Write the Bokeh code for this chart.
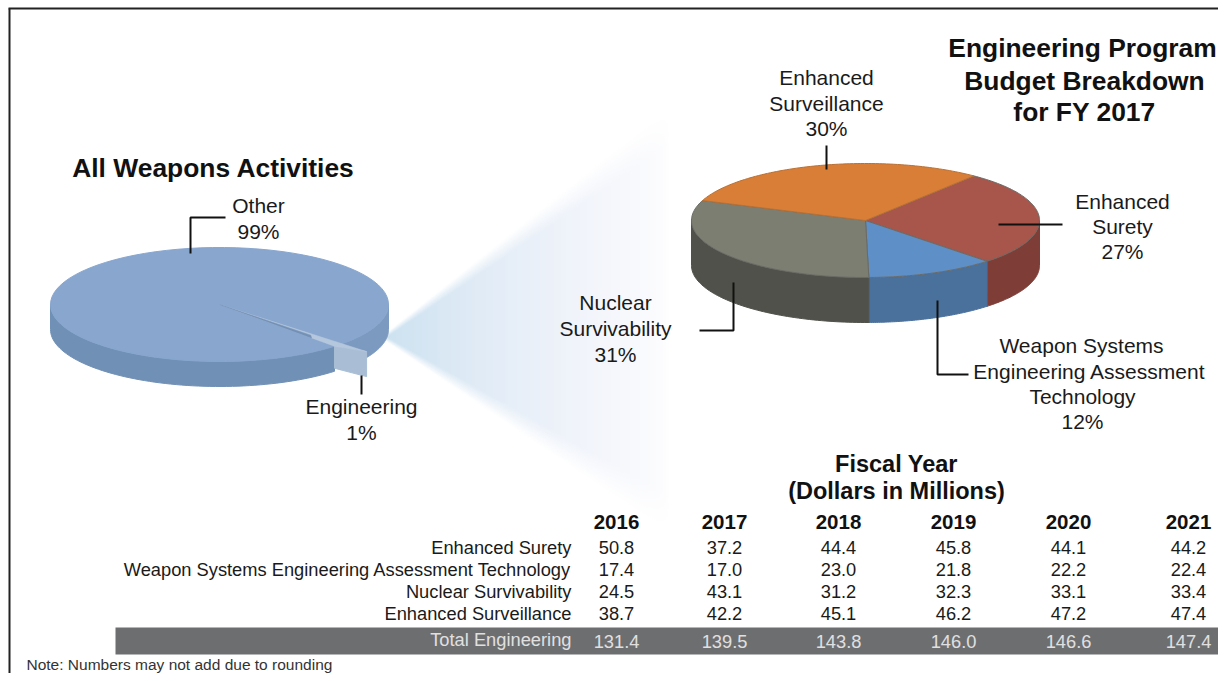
import numpy as np
from bokeh.plotting import figure
from bokeh.models import Range1d
from bokeh.core.properties import value
from bokeh.embed import file_html
from bokeh.resources import INLINE

# ---- data ----
left_labels = ["Other", "Engineering"]
left_shares = [99, 1]
right_labels = ["Enhanced Surety", "Weapon Systems Engineering Assessment Technology",
                "Nuclear Survivability", "Enhanced Surveillance"]
right_shares = [27, 12, 31, 30]
years = ["2016", "2017", "2018", "2019", "2020", "2021"]
enhanced_surety = ["50.8", "37.2", "44.4", "45.8", "44.1", "44.2"]
weapon_systems = ["17.4", "17.0", "23.0", "21.8", "22.2", "22.4"]
nuclear_surv = ["24.5", "43.1", "31.2", "32.3", "33.1", "33.4"]
enhanced_surv = ["38.7", "42.2", "45.1", "46.2", "47.2", "47.4"]
total_eng = ["131.4", "139.5", "143.8", "146.0", "146.6", "147.4"]
table_rows = [("Enhanced Surety", enhanced_surety),
              ("Weapon Systems Engineering Assessment Technology", weapon_systems),
              ("Nuclear Survivability", nuclear_surv),
              ("Enhanced Surveillance", enhanced_surv)]

FONT = value("Liberation Sans")
W, H = 1218, 673
p = figure(width=W, height=H, output_backend="svg", toolbar_location=None,
           x_range=Range1d(0, W), y_range=Range1d(H, 0),
           min_border=0, outline_line_color=None, background_fill_color="white",
           border_fill_color="white")
p.axis.visible = False
p.grid.visible = False


def txt(x, y, s, size, color="#1a1a1a", bold=False, align="center"):
    p.text([x], [y - 1], text=[s], text_font=FONT, text_font_size=value(f"{size}px"),
           text_color=color, text_align=align, text_baseline="middle",
           text_font_style="bold" if bold else "normal")


def ell(cx, cy, rx, ry, a, r=1.0):
    a = np.radians(a)
    return cx + rx * r * np.cos(a), cy + ry * r * np.sin(a)


def top(cx, cy, rx, ry, a0, a1, color, line=None):
    t = np.linspace(a0, a1, 90)
    xs, ys = ell(cx, cy, rx, ry, t)
    p.patch(np.r_[cx, xs], np.r_[cy, ys], fill_color=color,
            line_color=line or color, line_width=1)


def side(cx, cy, rx, ry, d, a0, a1, color):
    a0, a1 = max(a0, 0), min(a1, 180)
    if a1 <= a0:
        return
    t = np.linspace(a0, a1, 70)
    xs, ys = ell(cx, cy, rx, ry, t)
    p.patch(np.r_[xs, xs[::-1]], np.r_[ys, ys[::-1] + d], fill_color=color,
            line_color=color, line_width=1)


# ---- fan glow between the two pies ----
ax, ay = 380.0, 337.0
fx0, fx1, fy0, fy1 = 376, 672, 112, 520
gx, gy = np.meshgrid(np.arange(fx0, fx1) + .5, np.arange(fy0, fy1) + .5)
dx = np.clip(gx - ax, 0, None)
up = ay - dx * 0.80
dn = ay + dx * 0.68
soft = 4 + dx * 0.12
mask = np.clip((gy - up) / soft, 0, 1) * np.clip((dn - gy) / soft, 0, 1)
mask *= (gx > ax)
f = np.clip(dx / 288, 0, 1)
fade = np.clip((1 - f) ** 0.45, 0, 1)
alpha = mask * fade * np.clip(0.80 - 0.35 * f, 0, 1)
rgba = np.zeros(gx.shape + (4,), dtype=np.uint8)
rgba[..., 0] = (190 + 30 * f).astype(np.uint8)
rgba[..., 1] = (218 + 5 * f).astype(np.uint8)
rgba[..., 2] = (236 + 8 * f).astype(np.uint8)
rgba[..., 3] = (alpha * 255).astype(np.uint8)
img = rgba.view(dtype=np.uint32).reshape(gx.shape)
p.image_rgba(image=[img], x=fx0, y=fy0, dw=fx1 - fx0, dh=fy1 - fy0)

# ---- left pie ----
lc, ly, lrx, lry, ld = 219, 304, 169, 57, 25
eng_start = 43.5
eng_span = left_shares[1] / sum(left_shares) * 360
eng_end = eng_start + eng_span
side(lc, ly, lrx, lry, ld, 0, eng_start + 1, "#7C99BF")
side(lc, ly, lrx, lry, ld, eng_end, 180, "#7090B5")
top(lc, ly, lrx, lry, eng_end - 360, eng_start + 0.5, "#88A6CE")
farx, fary = ell(lc, ly, lrx, lry, eng_start, 1.2)
nearx, neary = ell(lc, ly, lrx, lry, eng_end, 1.0)
p.patch([nearx, farx, farx, nearx], [neary, fary, fary + ld, neary + ld - 3],
        fill_color="#A9BED5", line_color="#A9BED5")
p.patch([lc, farx, nearx], [ly, fary, neary], fill_color="#B4C7DC", line_color="#B4C7DC", line_width=.5)
p.patch([lc, lc + (farx - lc) * .62, lc + (nearx - lc) * .80],
        [ly, ly + (fary - ly) * .62 + 1.5, ly + (neary - ly) * .80],
        fill_color="#7391B6", line_color="#7391B6", line_width=.5)

# ---- right pie ----
rc, ry, rrx, rry, rd = 865, 220, 174, 57, 45
right_top = ["#A8554C", "#5E8FC6", "#7C7E72", "#D97E37"]
right_side = ["#7E3E37", "#4A709C", "#50514A", "#B5652A"]
a = -51.5
bounds = []
for s, ct, cs in zip(right_shares, right_top, right_side):
    b = a + s / sum(right_shares) * 360
    side(rc, ry, rrx, rry, rd, a, b, cs)
    bounds.append((a, b, ct))
    a = b
for a0, b0, ct in bounds:
    top(rc, ry, rrx, rry, a0, b0, ct, line="#6B6B66" if ct != "#D97E37" else "#B87035")

# ---- leaders ----
leaders = [([190, 190, 225], [253, 217, 217]),
           ([361, 361], [375, 394]),
           ([826, 826], [145, 169]),
           ([998, 1062], [224, 224]),
           ([733, 733, 699], [282, 330, 330]),
           ([937, 937, 968], [300, 374, 374])]
for xs, ys in leaders:
    p.line(xs, ys, line_color="#111111", line_width=2)

# ---- frame ----
p.line([9, 9], [8, H], line_color="#222222", line_width=2)
p.line([8, W], [8, 8], line_color="#222222", line_width=2)

# ---- titles and labels ----
LB = 21
TT = 26.4
txt(213, 168, "All Weapons Activities", TT, "#111111", True)
txt(258, 206, left_labels[0], LB)
txt(258, 232, f"{left_shares[0]}%", LB)
txt(361, 407, left_labels[1], LB)
txt(361, 433, f"{left_shares[1]}%", LB)
txt(1082, 48, "Engineering Program", TT, "#111111", True)
txt(1084, 81, "Budget Breakdown", TT, "#111111", True)
txt(1084, 112, "for FY 2017", TT, "#111111", True)
txt(826, 78, "Enhanced", LB)
txt(826, 104, "Surveillance", LB)
txt(826, 129, f"{right_shares[3]}%", LB)
txt(1122, 202, "Enhanced", LB)
txt(1122, 227, "Surety", LB)
txt(1122, 252, f"{right_shares[0]}%", LB)
txt(615, 303, "Nuclear", LB)
txt(615, 329, "Survivability", LB)
txt(615, 355, f"{right_shares[2]}%", LB)
txt(1081, 346, "Weapon Systems", LB)
txt(1089, 372, "Engineering Assessment", LB)
txt(1082, 397, "Technology", LB)
txt(1082, 422, f"{right_shares[1]}%", LB)

# ---- table ----
col_x = [616, 724, 838, 953, 1068, 1188]
TB = 18.3
txt(896, 464, "Fiscal Year", 23.5, "#111111", True)
txt(896, 491, "(Dollars in Millions)", 23.5, "#111111", True)
for x, y in zip(col_x, years):
    txt(x, 522, y, 20.5, "#111111", True)
row_y = [548, 570, 592, 614]
for yy, (name, vals) in zip(row_y, table_rows):
    txt(571, yy, name, TB, align="right")
    for x, v in zip(col_x, vals):
        txt(x, yy, v, TB)
p.quad(left=[115], right=[W], top=[627], bottom=[654], fill_color="#6D6E70", line_color=None)
txt(571, 640, "Total Engineering", TB, "#E0E0E0", align="right")
for x, v in zip(col_x, total_eng):
    txt(x, 642, v, TB, "#E0E0E0")
txt(26, 665, "Note: Numbers may not add due to rounding", 15.5, "#333333", align="left")

open("out.html", "w").write(file_html(p, INLINE))
